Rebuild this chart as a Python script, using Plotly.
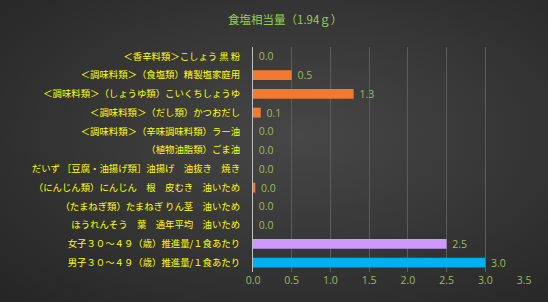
import base64
import plotly.graph_objects as go

title = "食塩相当量（1.94ｇ）"
categories = [
    "＜香辛料類＞こしょう 黒 粉",
    "＜調味料類＞（食塩類）精製塩家庭用",
    "＜調味料類＞（しょうゆ類）こいくちしょうゆ",
    "＜調味料類＞（だし類）かつおだし",
    "＜調味料類＞（辛味調味料類）ラー油",
    "（植物油脂類）ごま油",
    "だいず ［豆腐・油揚げ類］油揚げ　油抜き　焼き",
    "（にんじん類）にんじん　根　皮むき　油いため",
    "（たまねぎ類）たまねぎ りん茎　油いため",
    "ほうれんそう　葉　通年平均　油いため",
    "女子３０～４９（歳）推進量/１食あたり",
    "男子３０～４９（歳）推進量/１食あたり",
]
values = [0.0, 0.5, 1.3, 0.1, 0.0, 0.0, 0.0, 0.03, 0.0, 0.0, 2.5, 3.0]
bar_colors = ["#F07A30"] * 10 + ["#CC99FF", "#00B0F0"]
x_ticks = [0.0, 0.5, 1.0, 1.5, 2.0, 2.5, 3.0, 3.5]

W, H = 548, 302
ML, MR, MT, MB = 253, 24, 47, 30
pw, ph = W - ML - MR, H - MT - MB

svg = (
    f'<svg xmlns="http://www.w3.org/2000/svg" width="{W}" height="{H}" preserveAspectRatio="none">'
    '<defs><radialGradient id="g" cx="0.55" cy="0.45" r="0.75">'
    '<stop offset="0" stop-color="#474747"/><stop offset="1" stop-color="#262626"/>'
    '</radialGradient></defs>'
    f'<rect width="{W}" height="{H}" fill="url(#g)"/></svg>'
)
bg_uri = "data:image/svg+xml;base64," + base64.b64encode(svg.encode()).decode()

fig = go.Figure()
fig.add_trace(go.Bar(
    y=categories, x=values, orientation="h",
    marker=dict(color=bar_colors, line=dict(width=0)),
    text=["\u00a0" + f"{v:.1f}" for v in values], textposition="outside",
    constraintext="none",
    textfont=dict(color="#9BBB59", size=10.5, family="Open Sans"),
    cliponaxis=False,
))

fig.update_layout(
    width=W, height=H,
    margin=dict(l=ML, r=MR, t=MT, b=MB),
    paper_bgcolor="#353535",
    plot_bgcolor="rgba(0,0,0,0)",
    showlegend=False,
    bargap=0.47,
    annotations=[dict(text=title, xref="paper", yref="paper",
                      x=(285 - ML) / pw, y=1 + (MT - 19) / ph,
                      xanchor="center", yanchor="middle", showarrow=False,
                      font=dict(color="#92D050", size=11.5, family="Noto Sans CJK JP"))],
    images=[dict(source=bg_uri, xref="paper", yref="paper",
                 x=-ML / pw, y=1 + MT / ph, sizex=W / pw, sizey=H / ph,
                 xanchor="left", yanchor="top", sizing="stretch", layer="below")],
    xaxis=dict(range=[0, 3.5], tickvals=x_ticks, ticktext=[f"{t:.1f}" for t in x_ticks],
               showgrid=True, gridcolor="#5c5c5c", gridwidth=1, zeroline=False,
               showline=False, tickfont=dict(color="#9BBB59", size=10.5, family="Open Sans")),
    yaxis=dict(autorange="reversed", showgrid=False, showline=True, linecolor="#bfbfbf",
               linewidth=1, ticks="", ticklabelstandoff=10,
               tickfont=dict(color="#FFFF00", size=9.4, family="Noto Sans CJK JP")),
)

fig.write_html("out.html")
